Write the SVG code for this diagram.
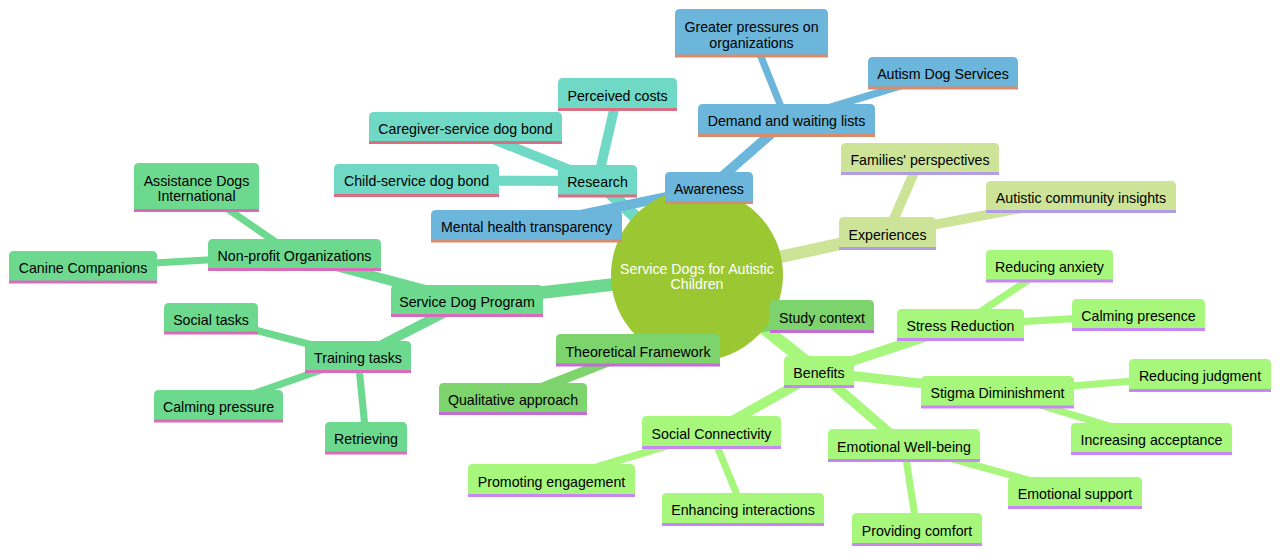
<svg xmlns="http://www.w3.org/2000/svg" width="1280" height="554" viewBox="0 0 1280 554">
<style>
text{font-family:"Liberation Sans",Arial,sans-serif;font-size:14.2px;fill:#000;text-anchor:middle}
.root text{fill:#fff}
.e{fill:none;stroke-linecap:butt}
.d0{stroke-width:12.5}.d1{stroke-width:9.8}.d2{stroke-width:7.1}
.ca{stroke:#6cb6db}.cr{stroke:#6fd9c6}.cx{stroke:#cde498}.cb{stroke:#a6f77c}.ct{stroke:#7dd36c}.cs{stroke:#6cd98f}
.na path{fill:#6cb6db}.na line{stroke:#d98c6c}
.nr path{fill:#6fd9c6}.nr line{stroke:#d96f82}
.nx path{fill:#cde498}.nx line{stroke:#b09de4}
.nb path{fill:#a6f77c}.nb line{stroke:#c987f5}
.nt path{fill:#7dd36c}.nt line{stroke:#c36cd3}
.ns path{fill:#6cd98f}.ns line{stroke:#d96cba}
line{stroke-width:3}
</style>
<g id="connectors">
<line class="e d0 ca" x1="697" y1="275" x2="709" y2="188"/>
<line class="e d0 cr" x1="697" y1="275" x2="597.5" y2="181"/>
<line class="e d0 cx" x1="697" y1="275" x2="887.5" y2="233.5"/>
<line class="e d0 cb" x1="697" y1="275" x2="819" y2="372"/>
<line class="e d0 ct" x1="697" y1="275" x2="638" y2="350"/>
<line class="e d0 cs" x1="697" y1="275" x2="467" y2="301"/>
<line class="e d1 cr" x1="597.5" y1="181" x2="617.5" y2="94.5"/>
<line class="e d1 cr" x1="597.5" y1="181" x2="465.5" y2="128"/>
<line class="e d1 cr" x1="597.5" y1="181" x2="416.5" y2="180.5"/>
<line class="e d1 ca" x1="709" y1="188" x2="786.5" y2="120.5"/>
<line class="e d1 ca" x1="709" y1="188" x2="526.5" y2="226"/>
<line class="e d1 cx" x1="887.5" y1="233.5" x2="920" y2="159"/>
<line class="e d1 cx" x1="887.5" y1="233.5" x2="1081" y2="197"/>
<line class="e d1 cb" x1="819" y1="372" x2="960.5" y2="325"/>
<line class="e d1 cb" x1="819" y1="372" x2="997.5" y2="392"/>
<line class="e d1 cb" x1="819" y1="372" x2="904" y2="445.5"/>
<line class="e d1 cb" x1="819" y1="372" x2="711.5" y2="432.5"/>
<line class="e d1 ct" x1="638" y1="350" x2="513" y2="399"/>
<line class="e d1 ct" x1="638" y1="350" x2="822" y2="316.5"/>
<line class="e d1 cs" x1="467" y1="301" x2="294.5" y2="255"/>
<line class="e d1 cs" x1="467" y1="301" x2="358" y2="357"/>
<line class="e d2 ca" x1="786.5" y1="120.5" x2="751.5" y2="33"/>
<line class="e d2 ca" x1="786.5" y1="120.5" x2="943" y2="73"/>
<line class="e d2 cb" x1="960.5" y1="325" x2="1049.5" y2="266"/>
<line class="e d2 cb" x1="960.5" y1="325" x2="1138.5" y2="315"/>
<line class="e d2 cb" x1="997.5" y1="392" x2="1200" y2="375.5"/>
<line class="e d2 cb" x1="997.5" y1="392" x2="1151.5" y2="439"/>
<line class="e d2 cb" x1="904" y1="445.5" x2="1075" y2="493"/>
<line class="e d2 cb" x1="904" y1="445.5" x2="917" y2="529.5"/>
<line class="e d2 cb" x1="711.5" y1="432.5" x2="551.5" y2="480.5"/>
<line class="e d2 cb" x1="711.5" y1="432.5" x2="743" y2="509.5"/>
<line class="e d2 cs" x1="294.5" y1="255" x2="196.5" y2="187.5"/>
<line class="e d2 cs" x1="294.5" y1="255" x2="83" y2="267"/>
<line class="e d2 cs" x1="358" y1="357" x2="211" y2="318.5"/>
<line class="e d2 cs" x1="358" y1="357" x2="218.5" y2="406"/>
<line class="e d2 cs" x1="358" y1="357" x2="366" y2="438"/>
</g>
<g id="root" class="root">
<circle cx="697" cy="275" r="86" fill="#9bc832"/>
<text x="697" y="274">Service Dogs for Autistic</text>
<text x="697" y="289">Children</text>
</g>
<g id="awareness" class="na"><path d="M665 202.5V177Q665 172 670 172H748Q753 172 753 177V202.5Z"/><line x1="665" y1="202.5" x2="753" y2="202.5"/><text x="709" y="194">Awareness</text></g>
<g id="demand" class="na"><path d="M698 135.5V109Q698 104 703 104H870Q875 104 875 109V135.5Z"/><line x1="698" y1="135.5" x2="875" y2="135.5"/><text x="786.5" y="126">Demand and waiting lists</text></g>
<g id="greater" class="na"><path d="M675 56V14Q675 9 680 9H823Q828 9 828 14V56Z"/><line x1="675" y1="56" x2="828" y2="56"/><text x="751.5" y="32">Greater pressures on</text><text x="751.5" y="48">organizations</text></g>
<g id="autism-dog-services" class="na"><path d="M868 88V62Q868 57 873 57H1013Q1018 57 1018 62V88Z"/><line x1="868" y1="88" x2="1018" y2="88"/><text x="943" y="79">Autism Dog Services</text></g>
<g id="mental-health" class="na"><path d="M431 241V215Q431 210 436 210H617Q622 210 622 215V241Z"/><line x1="431" y1="241" x2="622" y2="241"/><text x="526.5" y="232">Mental health transparency</text></g>
<g id="research" class="nr"><path d="M558 196V170Q558 165 563 165H632Q637 165 637 170V196Z"/><line x1="558" y1="196" x2="637" y2="196"/><text x="597.5" y="187">Research</text></g>
<g id="perceived-costs" class="nr"><path d="M558 109.5V83Q558 78 563 78H672Q677 78 677 83V109.5Z"/><line x1="558" y1="109.5" x2="677" y2="109.5"/><text x="617.5" y="101">Perceived costs</text></g>
<g id="caregiver-bond" class="nr"><path d="M369 142.5V117Q369 112 374 112H557Q562 112 562 117V142.5Z"/><line x1="369" y1="142.5" x2="562" y2="142.5"/><text x="465.5" y="134">Caregiver-service dog bond</text></g>
<g id="child-bond" class="nr"><path d="M334 195.5V169Q334 164 339 164H494Q499 164 499 169V195.5Z"/><line x1="334" y1="195.5" x2="499" y2="195.5"/><text x="416.5" y="186">Child-service dog bond</text></g>
<g id="experiences" class="nx"><path d="M839 248.5V222Q839 217 844 217H931Q936 217 936 222V248.5Z"/><line x1="839" y1="248.5" x2="936" y2="248.5"/><text x="887.5" y="240">Experiences</text></g>
<g id="families" class="nx"><path d="M841 173.5V148Q841 143 846 143H994Q999 143 999 148V173.5Z"/><line x1="841" y1="173.5" x2="999" y2="173.5"/><text x="920" y="165">Families' perspectives</text></g>
<g id="autistic-community" class="nx"><path d="M986 211.5V186Q986 181 991 181H1171Q1176 181 1176 186V211.5Z"/><line x1="986" y1="211.5" x2="1176" y2="211.5"/><text x="1081" y="203">Autistic community insights</text></g>
<g id="service-dog-program" class="ns"><path d="M391 315.5V290Q391 285 396 285H538Q543 285 543 290V315.5Z"/><line x1="391" y1="315.5" x2="543" y2="315.5"/><text x="467" y="307">Service Dog Program</text></g>
<g id="non-profit" class="ns"><path d="M208 269.5V244Q208 239 213 239H376Q381 239 381 244V269.5Z"/><line x1="208" y1="269.5" x2="381" y2="269.5"/><text x="294.5" y="261">Non-profit Organizations</text></g>
<g id="assistance-dogs" class="ns"><path d="M134 210.5V168Q134 163 139 163H254Q259 163 259 168V210.5Z"/><line x1="134" y1="210.5" x2="259" y2="210.5"/><text x="196.5" y="186">Assistance Dogs</text><text x="196.5" y="201">International</text></g>
<g id="canine-companions" class="ns"><path d="M9 282V256Q9 251 14 251H152Q157 251 157 256V282Z"/><line x1="9" y1="282" x2="157" y2="282"/><text x="83" y="273">Canine Companions</text></g>
<g id="training-tasks" class="ns"><path d="M305 371.5V346Q305 341 310 341H406Q411 341 411 346V371.5Z"/><line x1="305" y1="371.5" x2="411" y2="371.5"/><text x="358" y="363">Training tasks</text></g>
<g id="social-tasks" class="ns"><path d="M164 333V308Q164 303 169 303H253Q258 303 258 308V333Z"/><line x1="164" y1="333" x2="258" y2="333"/><text x="211" y="325">Social tasks</text></g>
<g id="calming-pressure" class="ns"><path d="M154 421V395Q154 390 159 390H278Q283 390 283 395V421Z"/><line x1="154" y1="421" x2="283" y2="421"/><text x="218.5" y="412">Calming pressure</text></g>
<g id="retrieving" class="ns"><path d="M325 453V427Q325 422 330 422H402Q407 422 407 427V453Z"/><line x1="325" y1="453" x2="407" y2="453"/><text x="366" y="444">Retrieving</text></g>
<g id="theoretical-framework" class="nt"><path d="M556 365V339Q556 334 561 334H715Q720 334 720 339V365Z"/><line x1="556" y1="365" x2="720" y2="365"/><text x="638" y="357">Theoretical Framework</text></g>
<g id="qualitative" class="nt"><path d="M439 413.5V388Q439 383 444 383H582Q587 383 587 388V413.5Z"/><line x1="439" y1="413.5" x2="587" y2="413.5"/><text x="513" y="405">Qualitative approach</text></g>
<g id="study-context" class="nt"><path d="M770 331.5V305Q770 300 775 300H869Q874 300 874 305V331.5Z"/><line x1="770" y1="331.5" x2="874" y2="331.5"/><text x="822" y="323">Study context</text></g>
<g id="benefits" class="nb"><path d="M784 386.5V361Q784 356 789 356H849Q854 356 854 361V386.5Z"/><line x1="784" y1="386.5" x2="854" y2="386.5"/><text x="819" y="378">Benefits</text></g>
<g id="stress-reduction" class="nb"><path d="M897 339.5V314Q897 309 902 309H1019Q1024 309 1024 314V339.5Z"/><line x1="897" y1="339.5" x2="1024" y2="339.5"/><text x="960.5" y="331">Stress Reduction</text></g>
<g id="reducing-anxiety" class="nb"><path d="M986 281V255Q986 250 991 250H1108Q1113 250 1113 255V281Z"/><line x1="986" y1="281" x2="1113" y2="281"/><text x="1049.5" y="272">Reducing anxiety</text></g>
<g id="calming-presence" class="nb"><path d="M1072 329.5V304Q1072 299 1077 299H1200Q1205 299 1205 304V329.5Z"/><line x1="1072" y1="329.5" x2="1205" y2="329.5"/><text x="1138.5" y="321">Calming presence</text></g>
<g id="stigma" class="nb"><path d="M921 407V381Q921 376 926 376H1069Q1074 376 1074 381V407Z"/><line x1="921" y1="407" x2="1074" y2="407"/><text x="997.5" y="398">Stigma Diminishment</text></g>
<g id="reducing-judgment" class="nb"><path d="M1129 390.5V364Q1129 359 1134 359H1266Q1271 359 1271 364V390.5Z"/><line x1="1129" y1="390.5" x2="1271" y2="390.5"/><text x="1200" y="381">Reducing judgment</text></g>
<g id="increasing-acceptance" class="nb"><path d="M1071 453.5V428Q1071 423 1076 423H1227Q1232 423 1232 428V453.5Z"/><line x1="1071" y1="453.5" x2="1232" y2="453.5"/><text x="1151.5" y="445">Increasing acceptance</text></g>
<g id="emotional-wellbeing" class="nb"><path d="M828 460.5V434Q828 429 833 429H975Q980 429 980 434V460.5Z"/><line x1="828" y1="460.5" x2="980" y2="460.5"/><text x="904" y="452">Emotional Well-being</text></g>
<g id="emotional-support" class="nb"><path d="M1008 507.5V482Q1008 477 1013 477H1137Q1142 477 1142 482V507.5Z"/><line x1="1008" y1="507.5" x2="1142" y2="507.5"/><text x="1075" y="499">Emotional support</text></g>
<g id="providing-comfort" class="nb"><path d="M852 544.5V518Q852 513 857 513H977Q982 513 982 518V544.5Z"/><line x1="852" y1="544.5" x2="982" y2="544.5"/><text x="917" y="536">Providing comfort</text></g>
<g id="social-connectivity" class="nb"><path d="M642 447.5V421Q642 416 647 416H776Q781 416 781 421V447.5Z"/><line x1="642" y1="447.5" x2="781" y2="447.5"/><text x="711.5" y="439">Social Connectivity</text></g>
<g id="promoting-engagement" class="nb"><path d="M468 495.5V469Q468 464 473 464H630Q635 464 635 469V495.5Z"/><line x1="468" y1="495.5" x2="635" y2="495.5"/><text x="551.5" y="487">Promoting engagement</text></g>
<g id="enhancing-interactions" class="nb"><path d="M662 524.5V498Q662 493 667 493H819Q824 493 824 498V524.5Z"/><line x1="662" y1="524.5" x2="824" y2="524.5"/><text x="743" y="515">Enhancing interactions</text></g>
</svg>
